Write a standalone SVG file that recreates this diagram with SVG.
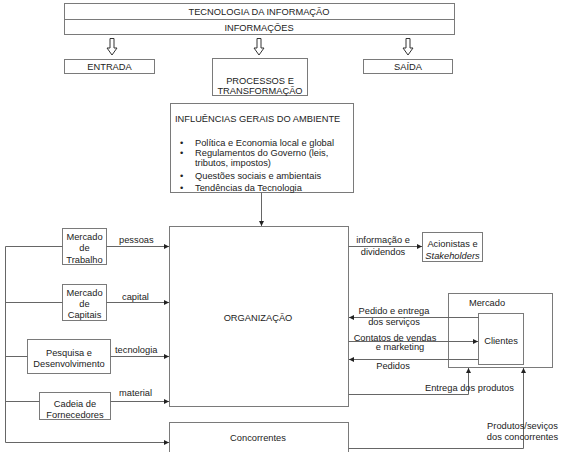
<svg xmlns="http://www.w3.org/2000/svg" width="562" height="452" viewBox="0 0 562 452">
<style>
text{font-family:"Liberation Sans",Arial,sans-serif;font-size:9.3px;fill:#222}
.m{text-anchor:middle}
.box{fill:#fff;stroke:#7a7a7a;stroke-width:1}
.ln{fill:none;stroke:#666;stroke-width:1}
.ha{fill:#fff;stroke:#333;stroke-width:1}
</style>
<defs>
<marker id="ar" markerUnits="userSpaceOnUse" markerWidth="6" markerHeight="6" refX="5" refY="2.5" orient="auto">
<path d="M0,0 L5,2.5 L0,5 z" fill="#222"/>
</marker>
</defs>
<rect width="562" height="452" fill="#fff"/>

<g id="ti">
<rect class="box" x="64.5" y="3.5" width="390" height="31"/>
<line class="box" x1="64.5" y1="19.5" x2="454.5" y2="19.5"/>
<text class="m" x="259" y="14.5">TECNOLOGIA DA INFORMAÇÃO</text>
<text class="m" x="259" y="30.5">INFORMAÇÕES</text>
</g>
<g id="hollow-arrows">
<polygon class="ha" points="110,38.5 114,38.5 114,48 117,48 112,55 107,48 110,48"/>
<polygon class="ha" points="257,38.5 261,38.5 261,48 264,48 259,55 254,48 257,48"/>
<polygon class="ha" points="406,38.5 410,38.5 410,48 413,48 408,55 403,48 406,48"/>
</g>
<g id="entrada">
<rect class="box" x="64.5" y="59.5" width="90" height="14"/>
<text class="m" x="109.5" y="69.8">ENTRADA</text>
</g>
<g id="processos">
<rect class="box" x="212.5" y="58.5" width="95" height="37"/>
<text class="m" x="260" y="83.5">PROCESSOS E</text>
<text class="m" x="260" y="93.5">TRANSFORMAÇÃO</text>
</g>
<g id="saida">
<rect class="box" x="363.5" y="59.5" width="89" height="14"/>
<text class="m" x="408" y="69.8">SAÍDA</text>
</g>

<g id="influencias">
<rect class="box" x="170.5" y="103.5" width="183" height="89"/>
<text x="175" y="122" font-size="8.8">INFLUÊNCIAS GERAIS DO AMBIENTE</text>
<text x="180" y="145.5">•</text><text x="195" y="145.5">Política e Economia local e global</text>
<text x="180" y="156">•</text><text x="195" y="156">Regulamentos do Governo (leis,</text>
<text x="195" y="166">tributos, impostos)</text>
<text x="180" y="179">•</text><text x="195" y="179">Questões sociais e ambientais</text>
<text x="180" y="191">•</text><text x="195" y="191">Tendências da Tecnologia</text>
</g>

<g id="organizacao">
<rect class="box" x="169.5" y="226.5" width="179" height="180"/>
<text class="m" x="258" y="320.5">ORGANIZAÇÃO</text>
</g>
<g id="concorrentes">
<rect class="box" x="169.5" y="422.5" width="179" height="40"/>
<text class="m" x="258" y="440.5">Concorrentes</text>
</g>

<g id="mercado-trabalho">
<rect class="box" x="62.5" y="228.5" width="44" height="36"/>
<text class="m" x="84.5" y="239.5">Mercado</text>
<text class="m" x="84.5" y="251">de</text>
<text class="m" x="84.5" y="262.5">Trabalho</text>
</g>
<g id="mercado-capitais">
<rect class="box" x="62.5" y="284.5" width="44" height="36"/>
<text class="m" x="84.5" y="296">Mercado</text>
<text class="m" x="84.5" y="307">de</text>
<text class="m" x="84.5" y="318">Capitais</text>
</g>
<g id="pesquisa">
<rect class="box" x="27.5" y="339.5" width="83" height="34"/>
<text class="m" x="69" y="355.5">Pesquisa e</text>
<text class="m" x="69" y="366.5">Desenvolvimento</text>
</g>
<g id="cadeia">
<rect class="box" x="39.5" y="392.5" width="71" height="27"/>
<text class="m" x="75" y="406.5">Cadeia de</text>
<text class="m" x="75" y="417.5">Fornecedores</text>
</g>

<g id="acionistas">
<rect class="box" x="422.5" y="232.5" width="60" height="29"/>
<text class="m" x="452.5" y="246.5">Acionistas e</text>
<text class="m" x="452.5" y="258.5" font-style="italic">Stakeholders</text>
</g>
<g id="mercado">
<rect class="box" x="448.5" y="293.5" width="104" height="74"/>
<text class="m" x="487" y="305.5">Mercado</text>
</g>
<g id="clientes">
<rect class="box" x="478.5" y="313.5" width="45" height="51"/>
<text class="m" x="501" y="343.5">Clientes</text>
</g>

<g id="connectors">
<line class="ln" x1="261.5" y1="192.5" x2="261.5" y2="226" marker-end="url(#ar)"/>
<polyline class="ln" points="62.5,246.5 5.5,246.5 5.5,442.5 169,442.5" marker-end="url(#ar)"/>
<line class="ln" x1="106.5" y1="246.5" x2="169" y2="246.5" marker-end="url(#ar)"/>
<line class="ln" x1="5.5" y1="302.5" x2="62.5" y2="302.5"/>
<line class="ln" x1="106.5" y1="302.5" x2="169" y2="302.5" marker-end="url(#ar)"/>
<line class="ln" x1="5.5" y1="356.5" x2="27.5" y2="356.5"/>
<line class="ln" x1="110.5" y1="356.5" x2="169" y2="356.5" marker-end="url(#ar)"/>
<line class="ln" x1="5.5" y1="401.5" x2="39.5" y2="401.5"/>
<line class="ln" x1="110.5" y1="401.5" x2="169" y2="401.5" marker-end="url(#ar)"/>
<line class="ln" x1="348.5" y1="246.5" x2="422" y2="246.5" marker-end="url(#ar)"/>
<line class="ln" x1="478.5" y1="317.5" x2="349" y2="317.5" marker-end="url(#ar)"/>
<line class="ln" x1="348.5" y1="341.5" x2="478" y2="341.5" marker-end="url(#ar)"/>
<line class="ln" x1="478.5" y1="359.5" x2="349" y2="359.5" marker-end="url(#ar)"/>
<polyline class="ln" points="348.5,394.5 468.5,394.5 468.5,368" marker-end="url(#ar)"/>
<polyline class="ln" points="348.5,448.5 523.5,448.5 523.5,368" marker-end="url(#ar)"/>
<text x="119" y="243">pessoas</text>
<text x="122" y="299.5">capital</text>
<text x="115" y="352.5">tecnologia</text>
<text x="119" y="396">material</text>
<text class="m" x="383" y="243">informação e</text>
<text class="m" x="383" y="255">dividendos</text>
<text class="m" x="394" y="314">Pedido e entrega</text>
<text class="m" x="394" y="325">dos serviços</text>
<text class="m" x="395" y="340.5">Contatos de vendas</text>
<text class="m" x="400" y="350">e marketing</text>
<text class="m" x="393" y="369">Pedidos</text>
<text x="425" y="391">Entrega dos produtos</text>
<text class="m" x="522.5" y="428.5">Produtos/seviços</text>
<text class="m" x="522.5" y="440">dos concorrentes</text>
</g>
</svg>
